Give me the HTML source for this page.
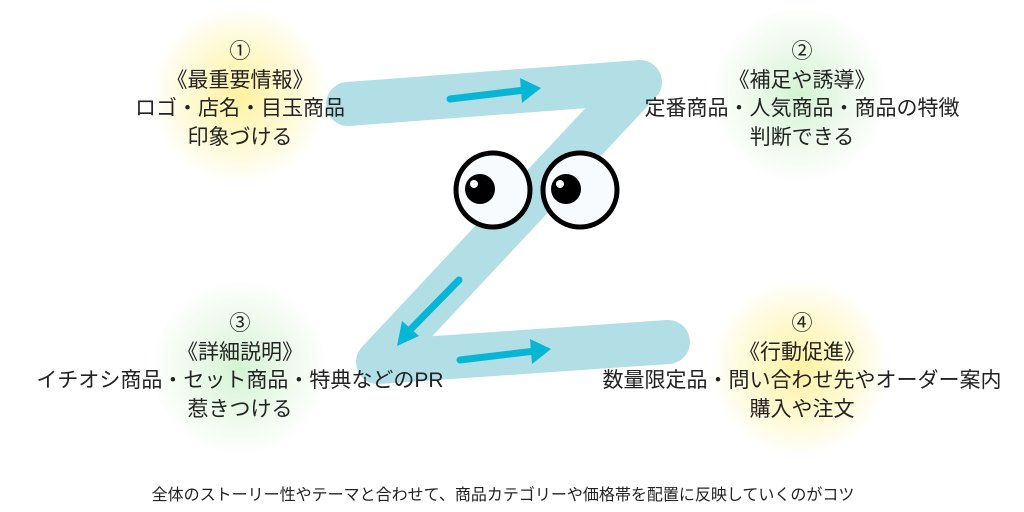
<!DOCTYPE html>
<html><head><meta charset="utf-8"><style>
body{margin:0;width:1024px;height:512px;background:#fff;position:relative;overflow:hidden;font-family:"Liberation Sans","Noto Sans CJK JP",sans-serif;color:#222}
.g{position:absolute;width:180px;height:180px;border-radius:50%}
.t{position:absolute;text-align:center;font-size:21px;line-height:28.5px;width:460px;white-space:nowrap}
.f{position:absolute;left:0;width:1024px;top:481px;text-align:center;font-size:16px;transform:translateX(-9px)}
</style></head><body>
<div class="g" style="left:150px;top:5px;background:radial-gradient(circle,rgba(255,240,150,.9),rgba(255,245,180,.5) 45%,rgba(255,255,255,0) 70%)"></div>
<div class="g" style="left:710px;top:5px;background:radial-gradient(circle,rgba(200,240,200,.8),rgba(220,245,215,.4) 45%,rgba(255,255,255,0) 70%)"></div>
<div class="g" style="left:150px;top:278px;background:radial-gradient(circle,rgba(200,240,200,.8),rgba(220,245,215,.4) 45%,rgba(255,255,255,0) 70%)"></div>
<div class="g" style="left:710px;top:278px;background:radial-gradient(circle,rgba(255,240,150,.9),rgba(255,245,180,.5) 45%,rgba(255,255,255,0) 70%)"></div>
<svg width="1024" height="512" style="position:absolute;left:0;top:0">
<polyline points="348,104 640,82 378,362 668,342" fill="none" stroke="#b2dfe6" stroke-width="44" stroke-linecap="round" stroke-linejoin="round"/>
<g stroke="#06b6d4" stroke-width="7" stroke-linecap="round" fill="#06b6d4">
<line x1="450" y1="99" x2="525" y2="90"/><polygon points="520,78 541,88 522,103" stroke="none"/>
<line x1="459" y1="280" x2="410" y2="330"/><polygon points="397,346 402,321 419,336" stroke="none"/>
<line x1="460" y1="360" x2="535" y2="351"/><polygon points="530,339 551,349 532,364" stroke="none"/>
</g>
<g stroke="#000" stroke-width="5" fill="#f7fbfd">
<circle cx="493" cy="190" r="37"/><circle cx="580" cy="190" r="37"/></g>
<circle cx="480" cy="189" r="15"/><circle cx="566" cy="189" r="15"/>
<circle cx="474" cy="184" r="4" fill="#fff"/><circle cx="560" cy="184" r="4" fill="#fff"/>
</svg>
<div class="t" style="left:10px;top:38px">①<br>《最重要情報》<br>ロゴ・店名・目玉商品<br>印象づける</div>
<div class="t" style="left:572px;top:38px">②<br>《補足や誘導》<br>定番商品・人気商品・商品の特徴<br>判断できる</div>
<div class="t" style="left:10px;top:310px">③<br>《詳細説明》<br>イチオシ商品・セット商品・特典などのPR<br>惹きつける</div>
<div class="t" style="left:572px;top:310px">④<br>《行動促進》<br>数量限定品・問い合わせ先やオーダー案内<br>購入や注文</div>
<div class="f">全体のストーリー性やテーマと合わせて、商品カテゴリーや価格帯を配置に反映していくのがコツ</div>
</body></html>
